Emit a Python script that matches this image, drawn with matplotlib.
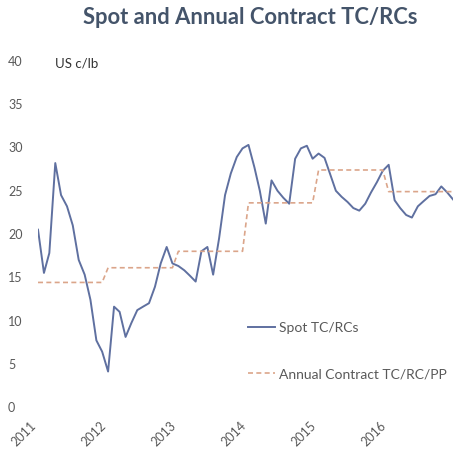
import numpy as np
import pandas as pd
import matplotlib
matplotlib.use("Agg")
import matplotlib.pyplot as plt
import matplotlib.dates as mdates

plt.rcParams['font.family'] = ['Lato', 'DejaVu Sans']

# monthly values, Jan 2011 - Dec 2016 (US c/lb)
months = pd.date_range("2011-01-01", periods=72, freq="MS")
spot = [20.5, 15.5, 17.8, 28.2, 24.5, 23.2, 21.0, 17.0, 15.3, 12.4, 7.7, 6.4,
        4.1, 11.6, 11.0, 8.1, 9.7, 11.2, 11.6, 12.0, 13.9, 16.6, 18.5, 16.6,
        16.3, 15.8, 15.2, 14.5, 18.0, 18.5, 15.3, 19.5, 24.5, 27.0, 28.9, 29.9,
        30.3, 27.7, 25.0, 21.2, 26.2, 25.0, 24.2, 23.5, 28.7, 29.9, 30.2, 28.7,
        29.3, 28.8, 27.0, 25.0, 24.3, 23.7, 23.0, 22.7, 23.5, 24.8, 26.0, 27.3,
        28.0, 23.9, 23.0, 22.2, 21.9, 23.2, 23.8, 24.4, 24.6, 25.5, 24.8, 24.0]
annual_years = [2011, 2012, 2013, 2014, 2015, 2016]
annual_values = [14.4, 16.1, 18.0, 23.6, 27.4, 24.9]
contract = [annual_values[annual_years.index(d.year)] for d in months]

yticks = [0, 5, 10, 15, 20, 25, 30, 35, 40]
year_ticks = pd.to_datetime([f"{y}-01-01" for y in annual_years])

fig = plt.figure(figsize=(4.54, 4.54), dpi=100)
ax = fig.add_axes([38 / 454, 47 / 454, 415 / 454, 346 / 454])

ax.plot(months, spot, color="#5f70a0", lw=1.4, label="Spot TC/RCs")
ax.plot(months, contract, color="#dba58a", lw=1.2, ls=(0, (3, 2)),
        label="Annual Contract TC/RC/PP")

ax.set_ylim(0, 40)
ax.set_xlim(months[0], months[-1])
ax.set_yticks(yticks)
ax.set_yticklabels([str(v) for v in yticks], ha="left")
ax.set_xticks(year_ticks)
ax.xaxis.set_major_formatter(mdates.DateFormatter("%Y"))
for lbl in ax.get_xticklabels():
    lbl.set_rotation(45)
    lbl.set_ha("right")
ax.tick_params(axis="y", length=0, pad=21.6, labelsize=9, labelcolor="#595959")
ax.tick_params(axis="x", length=0, pad=9, labelsize=9, labelcolor="#595959")
for s in ax.spines.values():
    s.set_visible(False)

fig.text(250 / 454, 1 - 17 / 454, "Spot and Annual Contract TC/RCs", ha="center",
         va="center", fontsize=15.8, fontweight="bold", color="#44546a")
fig.text(55 / 454, 1 - 63 / 454, "US c/lb", ha="left", va="center",
         fontsize=9.5, color="#333333")

ax.legend(loc="upper left", bbox_to_anchor=(248 / 454, 1 - 322 / 454),
          bbox_transform=fig.transFigure, frameon=False, fontsize=10,
          labelcolor="#595959", handlelength=1.95, handletextpad=0.25,
          labelspacing=2.45, borderpad=0, borderaxespad=0)

fig.savefig("out.png", dpi=100, facecolor="white")
